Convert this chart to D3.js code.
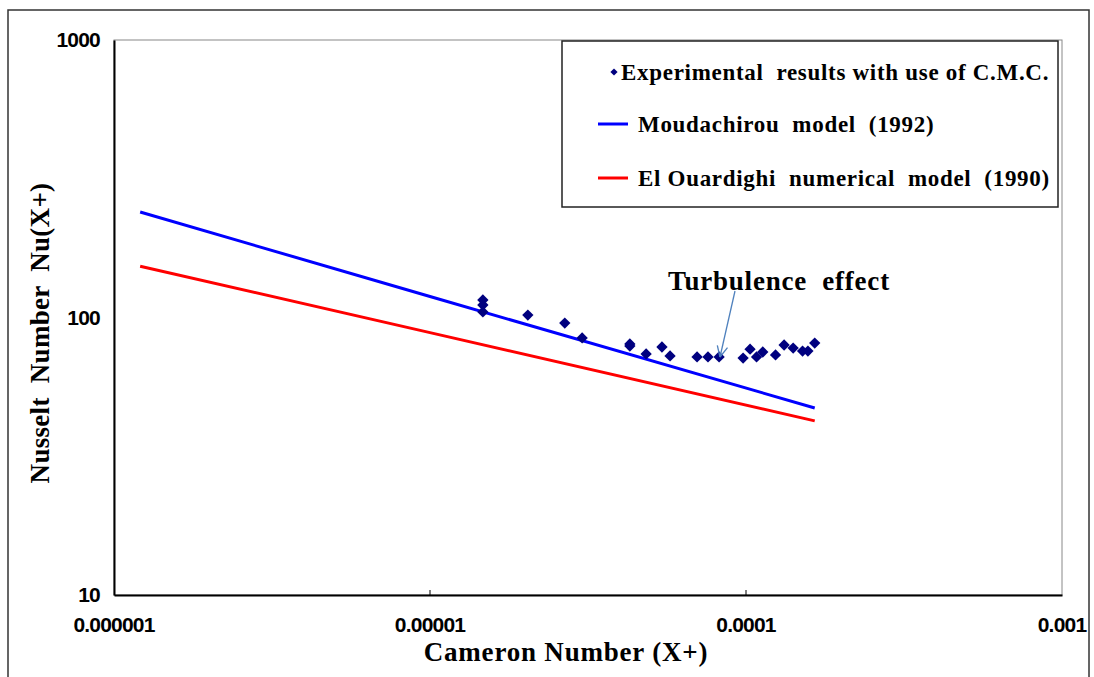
<!DOCTYPE html>
<html>
<head>
<meta charset="utf-8">
<script src="https://cdn.jsdelivr.net/npm/d3@7"></script>
<style>
  body { margin: 0; background: #fff; }
  svg text { white-space: pre; }
</style>
</head>
<body>
<svg width="1094" height="677"></svg>
<script>
// experimental points (Cameron number, Nusselt number)
const expX = [1.47e-5, 1.47e-5, 1.47e-5, 2.04e-5, 2.67e-5, 3.03e-5, 4.29e-5, 4.29e-5, 4.83e-5, 5.42e-5,
              5.75e-5, 7.0e-5, 7.58e-5, 8.22e-5, 9.79e-5, 1.03e-4, 1.08e-4, 1.13e-4, 1.24e-4, 1.32e-4,
              1.41e-4, 1.51e-4, 1.57e-4, 1.65e-4];
const expY = [115.6, 110.9, 104.7, 102, 95.5, 84.4, 80.3, 78.9, 73.9, 78.3,
              72.7, 72.1, 72.1, 72.1, 71.4, 76.9, 72.1, 75.1, 73.3, 79.6,
              77.6, 75.7, 75.7, 80.9];
// model curves
const modelX = [1.21e-6, 1e-5, 1.65e-4];
const moudachirouY = [240, 119, 47.2];
const elOuardighiY = [153, 88.2, 42.4];

const xTicks = [1e-6, 1e-5, 1e-4, 1e-3];
const xTickLabels = ['0.000001', '0.00001', '0.0001', '0.001'];
const yTicks = [10, 100, 1000];
const yTickLabels = ['10', '100', '1000'];

const svg = d3.select('svg');
const plotL = 114, plotR = 1062, plotT = 40, plotB = 595;

const x = d3.scaleLog().domain([1e-6, 1e-3]).range([plotL, plotR]);
const y = d3.scaleLog().domain([10, 1000]).range([plotB, plotT]);

// outer frame
svg.append('rect')
  .attr('x', 8).attr('y', 10).attr('width', 1081).attr('height', 700)
  .attr('fill', 'none').attr('stroke', '#333').attr('stroke-width', 1.5);

// plot frame
svg.append('rect')
  .attr('x', plotL).attr('y', plotT).attr('width', plotR - plotL).attr('height', plotB - plotT)
  .attr('fill', 'none').attr('stroke', '#888').attr('stroke-width', 1);

// axes
const xAxis = d3.axisBottom(x).tickValues(xTicks).tickSize(0).tickFormat('');
svg.append('g').attr('transform', `translate(0,${plotB})`).call(xAxis)
  .call(g => g.select('.domain').attr('stroke', '#000').attr('stroke-width', 2));
svg.append('g').selectAll('line').data(xTicks.slice(1, 3)).join('line')
  .attr('x1', d => x(d)).attr('x2', d => x(d))
  .attr('y1', plotB).attr('y2', plotB - 5)
  .attr('stroke', '#000').attr('stroke-width', 1);

const yAxis = d3.axisLeft(y).tickValues(yTicks).tickSize(0).tickFormat('');
svg.append('g').attr('transform', `translate(${plotL},0)`).call(yAxis)
  .call(g => g.select('.domain').attr('stroke', '#000').attr('stroke-width', 2));

svg.append('g').selectAll('text').data(xTicks).join('text')
  .attr('x', d => x(d)).attr('y', plotB + 37)
  .attr('text-anchor', 'middle')
  .attr('font-family', 'Liberation Sans, Arial, sans-serif')
  .attr('font-weight', 'bold').attr('font-size', 21).attr('letter-spacing', -0.8)
  .text((d, i) => xTickLabels[i]);

svg.append('g').selectAll('text').data(yTicks).join('text')
  .attr('x', plotL - 14).attr('y', d => y(d) + 7)
  .attr('text-anchor', 'end')
  .attr('font-family', 'Liberation Sans, Arial, sans-serif')
  .attr('font-weight', 'bold').attr('font-size', 21).attr('letter-spacing', -0.8)
  .text((d, i) => yTickLabels[i]);

const serif = 'Liberation Serif, Times New Roman, serif';

// axis titles
svg.append('text')
  .attr('x', 566).attr('y', 661).attr('text-anchor', 'middle')
  .attr('font-family', serif).attr('font-weight', 'bold')
  .attr('font-size', 27).attr('letter-spacing', 0.8)
  .text('Cameron Number (X+)');

svg.append('text')
  .attr('transform', 'translate(49,333) rotate(-90)')
  .attr('text-anchor', 'middle')
  .attr('font-family', serif).attr('font-weight', 'bold')
  .attr('font-size', 27).attr('letter-spacing', 0.3)
  .text('Nusselt  Number  Nu(X+)');

// model lines
const line = d3.line().x(d => x(d[0])).y(d => y(d[1]));
svg.append('path')
  .datum(modelX.map((d, i) => [d, moudachirouY[i]]))
  .attr('d', line).attr('fill', 'none').attr('stroke', '#0000ff').attr('stroke-width', 3);
svg.append('path')
  .datum(modelX.map((d, i) => [d, elOuardighiY[i]]))
  .attr('d', line).attr('fill', 'none').attr('stroke', '#ff0000').attr('stroke-width', 3);

// experimental points
const diamond = d3.symbol().type(d3.symbolSquare).size(64);
svg.append('g').selectAll('path').data(expX).join('path')
  .attr('transform', (d, i) => `translate(${x(d)},${y(expY[i])}) rotate(45)`)
  .attr('d', diamond).attr('fill', '#00007f');

// annotation
svg.append('text')
  .attr('x', 779).attr('y', 290).attr('text-anchor', 'middle')
  .attr('font-family', serif).attr('font-weight', 'bold')
  .attr('font-size', 27).attr('letter-spacing', 0.8)
  .text('Turbulence  effect');

const ax1 = 735, ay1 = 291, ax2 = 720, ay2 = 357;
svg.append('line')
  .attr('x1', ax1).attr('y1', ay1).attr('x2', ax2).attr('y2', ay2)
  .attr('stroke', '#4f81bd').attr('stroke-width', 1.3);
const ang = Math.atan2(ay2 - ay1, ax2 - ax1);
[0.45, -0.45].forEach(a => {
  svg.append('line')
    .attr('x1', ax2).attr('y1', ay2)
    .attr('x2', ax2 - 12 * Math.cos(ang + a)).attr('y2', ay2 - 12 * Math.sin(ang + a))
    .attr('stroke', '#4f81bd').attr('stroke-width', 1.3);
});

// legend
const legend = svg.append('g');
legend.append('rect')
  .attr('x', 562).attr('y', 41).attr('width', 496).attr('height', 166)
  .attr('fill', '#fff').attr('stroke', '#222').attr('stroke-width', 1.5);
const legFont = g => g.attr('font-family', serif)
  .attr('font-weight', 'bold').attr('font-size', 23).attr('letter-spacing', 0.7);
legend.append('path')
  .attr('transform', 'translate(614,72) rotate(45)')
  .attr('d', d3.symbol().type(d3.symbolSquare).size(26)).attr('fill', '#00007f');
legend.append('text').attr('x', 621).attr('y', 80).call(legFont)
  .text('Experimental  results with use of C.M.C.');
legend.append('line').attr('x1', 598).attr('x2', 628).attr('y1', 124).attr('y2', 124)
  .attr('stroke', '#0000ff').attr('stroke-width', 3);
legend.append('text').attr('x', 638).attr('y', 132).call(legFont)
  .text('Moudachirou  model  (1992)');
legend.append('line').attr('x1', 598).attr('x2', 628).attr('y1', 178).attr('y2', 178)
  .attr('stroke', '#ff0000').attr('stroke-width', 3);
legend.append('text').attr('x', 638).attr('y', 186).call(legFont)
  .text('El Ouardighi  numerical  model  (1990)');
</script>
</body>
</html>
